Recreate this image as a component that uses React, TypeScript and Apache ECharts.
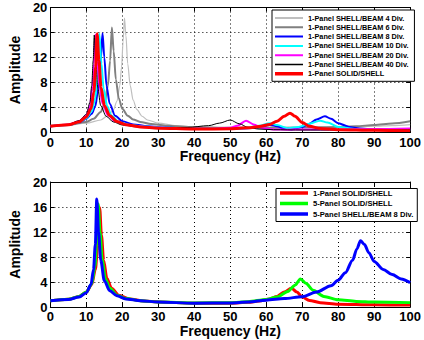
import { useEffect, useRef } from "react";
import * as echarts from "echarts";

// ---------- Top panel data ----------
const topNames = [
  "1-Panel SHELL/BEAM 4 Div.",
  "1-Panel SHELL/BEAM 6 Div.",
  "1-Panel SHELL/BEAM 8 Div.",
  "1-Panel SHELL/BEAM 10 Div.",
  "1-Panel SHELL/BEAM 20 Div.",
  "1-Panel SHELL/BEAM 40 Div.",
  "1-Panel SOLID/SHELL",
];
const topColors = ["#bfbfbf", "#808080", "#0000ff", "#00ffff", "#ff00ff", "#000000", "#ff0000"];

const div4X = [0, 5, 10, 14, 16, 17.5, 18.5, 19.3, 19.8, 20.2, 20.6, 21.0, 21.5, 22.2, 23, 24, 25.5, 27, 30, 35, 40, 45, 50, 60, 70, 80, 85, 90, 95, 100];
const div4Y = [1.1, 1.2, 1.5, 2.0, 2.7, 3.6, 5.0, 7.5, 10.5, 14.5, 18.3, 15.5, 11, 7.5, 5.2, 3.7, 2.6, 2.0, 1.5, 1.1, 0.9, 0.8, 0.75, 0.75, 0.8, 0.85, 0.9, 1.0, 1.1, 1.25];

const div6X = [0, 5, 10, 12, 14, 15, 16, 16.6, 17.1, 17.6, 18.2, 19, 20, 21.5, 23, 25, 28, 32, 40, 50, 60, 70, 80, 85, 90, 95, 100];
const div6Y = [1.1, 1.25, 1.7, 2.2, 3.3, 4.5, 7.5, 11.5, 16.8, 13, 8.5, 5.5, 3.8, 2.7, 2.1, 1.7, 1.35, 1.1, 0.85, 0.75, 0.75, 0.8, 0.9, 1.0, 1.2, 1.45, 1.8];

const div8X = [0, 5, 8, 10, 11.5, 12.5, 13.3, 13.9, 14.5, 15.0, 15.6, 16.5, 18, 20, 23, 27, 32, 40, 50, 55, 58, 61, 63, 65, 67, 70, 72, 74, 76.3, 78, 80, 83, 86, 90, 95, 100];
const div8Y = [1.0, 1.2, 1.6, 2.2, 3.0, 4.2, 7, 11, 15.9, 12, 7.5, 4.6, 2.7, 1.8, 1.3, 1.0, 0.8, 0.6, 0.55, 0.7, 0.9, 1.2, 1.0, 0.6, 0.5, 0.9, 1.4, 2.1, 2.6, 2.2, 1.5, 0.9, 0.65, 0.5, 0.4, 0.35];

const div10X = [0, 5, 8, 10, 11.5, 12.5, 13.0, 13.6, 14.2, 14.8, 15.8, 17, 19, 22, 26, 32, 40, 50, 55, 58, 61, 63, 66, 69, 72, 75, 77, 80, 85, 90, 95, 100];
const div10Y = [1.0, 1.2, 1.6, 2.3, 3.4, 5.5, 8.5, 15.8, 11, 7, 4.2, 2.7, 1.7, 1.2, 0.95, 0.75, 0.6, 0.6, 0.8, 1.1, 1.5, 1.2, 0.7, 0.9, 1.4, 1.9, 1.6, 0.9, 0.55, 0.45, 0.4, 0.35];

const div20X = [0, 5, 8, 10, 11, 11.7, 12.1, 12.5, 13, 13.6, 14.5, 16, 18, 21, 25, 30, 38, 45, 50, 52, 54.4, 56.5, 59, 62, 66, 70, 80, 90, 100];
const div20Y = [1.0, 1.3, 1.8, 2.7, 4.2, 7.5, 11, 15.7, 12, 7.5, 4.6, 2.8, 1.8, 1.25, 0.95, 0.75, 0.6, 0.6, 0.75, 1.1, 1.9, 1.3, 0.7, 0.5, 0.45, 0.5, 0.5, 0.55, 0.65];

const div40X = [0, 5, 8, 10, 11, 11.5, 11.9, 12.2, 12.6, 13.2, 14, 15.5, 17.5, 20, 24, 30, 38, 44, 47, 50, 52.5, 55, 58, 62, 70, 80, 90, 100];
const div40Y = [1.0, 1.3, 1.9, 2.9, 4.8, 7.5, 11.5, 15.6, 11.5, 7, 4.3, 2.6, 1.7, 1.2, 0.9, 0.75, 0.8, 1.1, 1.5, 2.0, 1.4, 0.8, 0.55, 0.45, 0.4, 0.4, 0.4, 0.45];

const solid1X = [0, 5, 8, 10, 11.3, 12.1, 12.6, 13.0, 13.5, 14.1, 15, 16.5, 18.5, 21, 25, 30, 40, 50, 55, 58, 61, 63, 65, 66.6, 68, 70, 72, 75, 80, 90, 100];
const solid1Y = [1.0, 1.25, 1.7, 2.5, 3.8, 6.5, 10.5, 15.8, 11.5, 7.2, 4.3, 2.7, 1.75, 1.25, 0.9, 0.7, 0.55, 0.6, 0.75, 0.95, 1.3, 1.8, 2.6, 3.1, 2.6, 1.6, 1.0, 0.65, 0.45, 0.35, 0.3];

// ---------- Bottom panel data ----------
const bottomNames = ["1-Panel SOLID/SHELL", "5-Panel SOLID/SHELL", "5-Panel SHELL/BEAM 8 Div."];
const bottomColors = ["#ff0000", "#00ff00", "#0000ff"];

const b1X = [0, 5, 8, 10, 11.5, 12.5, 13.2, 13.7, 14.2, 14.8, 15.7, 17, 19, 22, 26, 30, 40, 50, 55, 58, 61, 63, 65, 67, 68.5, 70, 72, 75, 80, 90, 100];
const b1Y = [1.0, 1.25, 1.7, 2.4, 3.6, 6, 10, 15.9, 11.5, 7.5, 4.6, 3.0, 1.9, 1.3, 0.95, 0.8, 0.6, 0.6, 0.75, 0.95, 1.3, 1.7, 2.4, 3.0, 2.4, 1.6, 1.05, 0.7, 0.45, 0.35, 0.3];

const b5sX = [0, 5, 8, 10, 11.5, 12.4, 12.9, 13.3, 13.8, 14.4, 15.3, 16.5, 18.5, 21, 25, 30, 40, 50, 55, 60, 63, 66, 68, 69.5, 71, 73, 76, 80, 85, 90, 100];
const b5sY = [1.0, 1.25, 1.7, 2.4, 3.7, 6.5, 11, 16.5, 12, 7.5, 4.5, 3.0, 1.9, 1.35, 1.0, 0.8, 0.65, 0.7, 0.85, 1.2, 1.6, 2.5, 3.5, 4.5, 3.8, 2.7, 1.7, 1.15, 0.9, 0.8, 0.7];

const b5bX = [0, 5, 8, 10, 11.3, 12.0, 12.5, 12.9, 13.4, 14, 15, 16.5, 18.5, 21, 25, 30, 40, 50, 55, 60, 65, 70, 74, 78, 80, 82, 84, 85.2, 86.2, 87.3, 88.5, 90, 92.5, 95, 97.5, 100];
const b5bY = [1.0, 1.2, 1.6, 2.3, 3.6, 6, 10, 17.3, 12, 7.5, 4.2, 2.6, 1.8, 1.3, 1.0, 0.8, 0.6, 0.65, 0.8, 1.1, 1.35, 1.65, 2.4, 3.4, 4.3, 5.5, 7.5, 9.3, 10.6, 10.0, 8.7, 7.3, 6.0, 5.2, 4.5, 3.9];

const xTickInterval = 10;
const yTickInterval = 4;

const FONT = "'Liberation Sans', Arial, sans-serif";

const pair = (xs: number[], ys: number[]) => xs.map((x, i) => [x, ys[i]]);

// legend icon: a horizontal bar of thickness w inside a 28x7 box
const barIcon = (w: number) =>
  `path://M0,0h0.01v0.01h-0.01z M0,${3.5 - w / 2}h28v${w}h-28z M27.99,6.99h0.01v0.01h-0.01z`;

function mainX(gridIndex: number) {
  return {
    gridIndex,
    type: "value",
    min: 0,
    max: 100,
    interval: xTickInterval,
    name: "Frequency (Hz)",
    nameLocation: "middle",
    nameGap: 16,
    nameTextStyle: { fontFamily: FONT, fontWeight: "bold", fontSize: 14, color: "#000" },
    axisLine: { show: true, lineStyle: { color: "#000", width: 1 } },
    axisTick: { show: true, inside: true, length: 4, lineStyle: { color: "#000" } },
    axisLabel: { fontFamily: FONT, fontWeight: "bold", fontSize: 13, color: "#000", margin: 3 },
    splitLine: { show: true, lineStyle: { color: "#000", type: [1, 3], width: 1 } },
  };
}
function topX(gridIndex: number) {
  return {
    gridIndex,
    type: "value",
    position: "top",
    min: 0,
    max: 100,
    interval: xTickInterval,
    axisLine: { show: true, onZero: false, lineStyle: { color: "#000", width: 1 } },
    axisTick: { show: true, inside: true, length: 4, lineStyle: { color: "#000" } },
    axisLabel: { show: false },
    splitLine: { show: false },
  };
}
function mainY(gridIndex: number) {
  return {
    gridIndex,
    type: "value",
    min: 0,
    max: 20,
    interval: yTickInterval,
    name: "Amplitude",
    nameLocation: "middle",
    nameGap: 18,
    nameTextStyle: { fontFamily: FONT, fontWeight: "bold", fontSize: 14, color: "#000" },
    axisLine: { show: true, lineStyle: { color: "#000", width: 1 } },
    axisTick: { show: true, inside: true, length: 4, lineStyle: { color: "#000" } },
    axisLabel: { fontFamily: FONT, fontWeight: "bold", fontSize: 13, color: "#000", margin: 3 },
    splitLine: { show: true, lineStyle: { color: "#000", type: [1, 3], width: 1 } },
  };
}
function rightY(gridIndex: number) {
  return {
    gridIndex,
    type: "value",
    position: "right",
    min: 0,
    max: 20,
    interval: yTickInterval,
    axisLine: { show: true, onZero: false, lineStyle: { color: "#000", width: 1 } },
    axisTick: { show: true, inside: true, length: 4, lineStyle: { color: "#000" } },
    axisLabel: { show: false },
    splitLine: { show: false },
  };
}

function line(name: string, xs: number[], ys: number[], color: string, width: number, panel: number) {
  return {
    name,
    type: "line",
    xAxisIndex: panel === 0 ? 0 : 1,
    yAxisIndex: panel === 0 ? 0 : 1,
    data: pair(xs, ys),
    showSymbol: false,
    symbol: "none",
    smooth: 0.3,
    smoothMonotone: "x",
    lineStyle: { color, width },
    itemStyle: { color },
    emphasis: { disabled: true },
  };
}

const topIconWidths = [2, 2, 2, 2, 2, 1.3, 3.5];
const bottomIconWidths = [3.5, 3.5, 3.5];

export default function App() {
  const ref = useRef<HTMLDivElement>(null);
  useEffect(() => {
    const chart = echarts.init(ref.current!, null, { renderer: "svg" });
    chart.setOption({
      animation: false,
      backgroundColor: "#fff",
      grid: [
        { left: 35, top: 7.5, width: 381, height: 125 },
        { left: 35, top: 182, width: 381, height: 125 },
      ],
      xAxis: [mainX(0), mainX(1), topX(0), topX(1)],
      yAxis: [mainY(0), mainY(1), rightY(0), rightY(1)],
      legend: [
        {
          data: topNames.map((n, i) => ({
            name: n,
            icon: barIcon(topIconWidths[i]),
            itemStyle: { color: topColors[i], borderWidth: 0 },
          })),
          orient: "vertical",
          left: 272,
          top: 10,
          itemWidth: 28,
          itemHeight: 7,
          itemGap: 2.3,
          padding: [4.5, 6, 4, 3],
          borderColor: "#000",
          borderWidth: 1,
          backgroundColor: "#fff",
          borderRadius: 0,
          selectedMode: false,
          itemStyle: { borderWidth: 0 },
          lineStyle: { width: 0 },
          textStyle: { fontFamily: FONT, fontWeight: "bold", fontSize: 7.3, color: "#000", lineHeight: 7 },
        },
        {
          data: bottomNames.map((n, i) => ({
            name: n,
            icon: barIcon(bottomIconWidths[i]),
            itemStyle: { color: bottomColors[i], borderWidth: 0 },
          })),
          orient: "vertical",
          left: 276,
          top: 188.5,
          itemWidth: 28,
          itemHeight: 7,
          itemGap: 2.5,
          padding: [0.5, 4, 3.5, 4],
          borderColor: "#000",
          borderWidth: 1,
          backgroundColor: "#fff",
          borderRadius: 0,
          selectedMode: false,
          itemStyle: { borderWidth: 0 },
          lineStyle: { width: 0 },
          textStyle: { fontFamily: FONT, fontWeight: "bold", fontSize: 7.6, color: "#000", lineHeight: 7 },
        },
      ],
      series: [
        line(topNames[0], div4X, div4Y, topColors[0], 1.2, 0),
        line(topNames[1], div6X, div6Y, topColors[1], 2, 0),
        line(topNames[2], div8X, div8Y, topColors[2], 2, 0),
        line(topNames[3], div10X, div10Y, topColors[3], 2, 0),
        line(topNames[4], div20X, div20Y, topColors[4], 2, 0),
        line(topNames[5], div40X, div40Y, topColors[5], 1, 0),
        line(topNames[6], solid1X, solid1Y, topColors[6], 3, 0),
        line(bottomNames[0], b1X, b1Y, bottomColors[0], 3, 1),
        line(bottomNames[1], b5sX, b5sY, bottomColors[1], 3, 1),
        line(bottomNames[2], b5bX, b5bY, bottomColors[2], 3, 1),
      ],
    });
    return () => chart.dispose();
  }, []);
  return <div ref={ref} style={{ position: "fixed", left: 0, top: 0, width: 424, height: 340 }} />;
}
